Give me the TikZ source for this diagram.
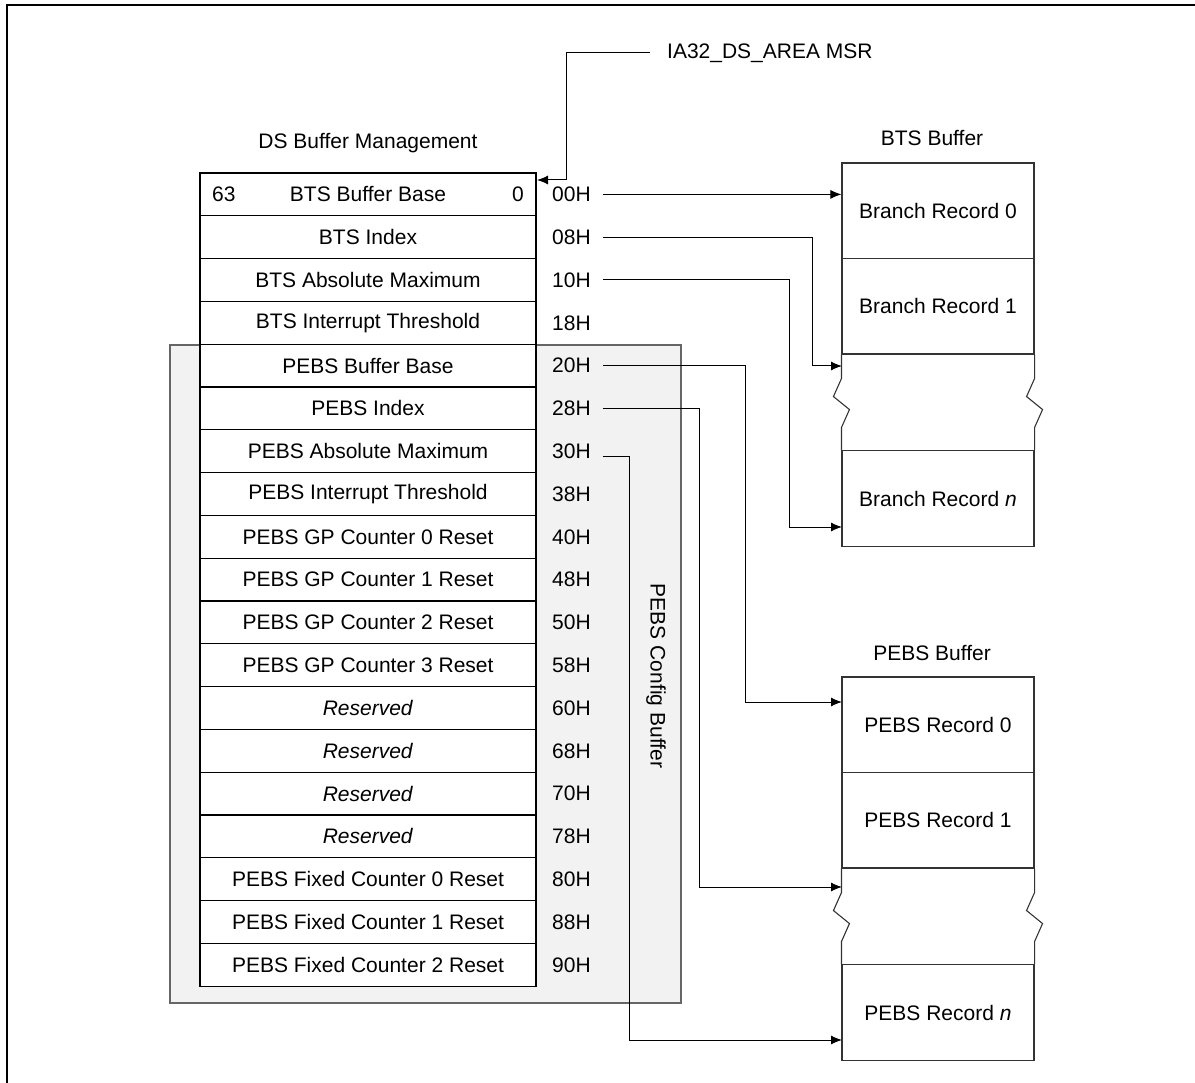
\documentclass[tikz,border=0pt]{standalone}
\usepackage{fontspec}
\setmainfont{Liberation Sans}
\usetikzlibrary{arrows.meta}
\begin{document}
\begin{tikzpicture}[x=1pt,y=-1pt,
  every node/.style={font=\fontsize{21}{25}\selectfont, text=black},
  row/.style={draw=black, line width=1.1pt, fill=white, minimum width=336pt, minimum height=42.8pt, inner sep=0pt, anchor=center},
  off/.style={anchor=west, inner sep=0pt},
  rec/.style={draw=black!80, line width=1.1pt, fill=white, minimum width=192pt, minimum height=95.5pt, inner sep=0pt},
  conn/.style={draw=black, line width=1pt},
  arr/.style={conn, -{Latex[length=11pt,width=9pt]}},
  cfgstyle/.style={draw=black!60, line width=1.3pt, fill=black!5, minimum width=511pt, minimum height=658pt, inner sep=0pt},
  zig/.style={draw=black!80, line width=1.1pt}
]
\useasboundingbox (0,0) rectangle (1195,1083);
% frame
\draw[line width=2.5pt] (7,1083) -- (7,5) -- (1195,5);

% PEBS config background
\node[cfgstyle] (cfg) at (425.5,674) {};

% table rows
\def\rowy#1{173+42.8*#1+21.4}
\node[row] (r0) at (368,{\rowy{0}}) {BTS Buffer Base};
\node[anchor=west, inner sep=0pt] (r0l) at (212,{\rowy{0}}) {63};
\node[anchor=east, inner sep=0pt] (r0r) at (524,{\rowy{0}}) {0};
\node[row] (r1) at (368,{\rowy{1}}) {BTS Index};
\node[row] (r2) at (368,{\rowy{2}}) {BTS Absolute Maximum};
\node[row] (r3) at (368,{\rowy{3}}) {BTS Interrupt Threshold};
\node[row] (r4) at (368,{\rowy{4}}) {PEBS Buffer Base};
\node[row] (r5) at (368,{\rowy{5}}) {PEBS Index};
\node[row] (r6) at (368,{\rowy{6}}) {PEBS Absolute Maximum};
\node[row] (r7) at (368,{\rowy{7}}) {PEBS Interrupt Threshold};
\node[row] (r8) at (368,{\rowy{8}}) {PEBS GP Counter 0 Reset};
\node[row] (r9) at (368,{\rowy{9}}) {PEBS GP Counter 1 Reset};
\node[row] (r10) at (368,{\rowy{10}}) {PEBS GP Counter 2 Reset};
\node[row] (r11) at (368,{\rowy{11}}) {PEBS GP Counter 3 Reset};
\node[row] (r12) at (368,{\rowy{12}}) {\textit{Reserved}};
\node[row] (r13) at (368,{\rowy{13}}) {\textit{Reserved}};
\node[row] (r14) at (368,{\rowy{14}}) {\textit{Reserved}};
\node[row] (r15) at (368,{\rowy{15}}) {\textit{Reserved}};
\node[row] (r16) at (368,{\rowy{16}}) {PEBS Fixed Counter 0 Reset};
\node[row] (r17) at (368,{\rowy{17}}) {PEBS Fixed Counter 1 Reset};
\node[row] (r18) at (368,{\rowy{18}}) {PEBS Fixed Counter 2 Reset};

% offsets
\node[off] (o00) at (552,{\rowy{0}}) {00H};
\node[off] (o08) at (552,{\rowy{1}}) {08H};
\node[off] (o10) at (552,{\rowy{2}}) {10H};
\node[off] (o18) at (552,{\rowy{3}}) {18H};
\node[off] (o20) at (552,{\rowy{4}}) {20H};
\node[off] (o28) at (552,{\rowy{5}}) {28H};
\node[off] (o30) at (552,{\rowy{6}}) {30H};
\node[off] (o38) at (552,{\rowy{7}}) {38H};
\node[off] (o40) at (552,{\rowy{8}}) {40H};
\node[off] (o48) at (552,{\rowy{9}}) {48H};
\node[off] (o50) at (552,{\rowy{10}}) {50H};
\node[off] (o58) at (552,{\rowy{11}}) {58H};
\node[off] (o60) at (552,{\rowy{12}}) {60H};
\node[off] (o68) at (552,{\rowy{13}}) {68H};
\node[off] (o70) at (552,{\rowy{14}}) {70H};
\node[off] (o78) at (552,{\rowy{15}}) {78H};
\node[off] (o80) at (552,{\rowy{16}}) {80H};
\node[off] (o88) at (552,{\rowy{17}}) {88H};
\node[off] (o90) at (552,{\rowy{18}}) {90H};

\node[rotate=-90, inner sep=0pt] (cfglbl) at (656,676) {PEBS Config Buffer};

% titles
\node (dstitle) at (368,143) {DS Buffer Management};
\node (btstitle) at (932,138) {BTS Buffer};
\node (pebstitle) at (932,653) {PEBS Buffer};

% BTS buffer
\node[rec] (br0) at (938,210.75) {Branch Record 0};
\node[rec] (br1) at (938,306.25) {Branch Record 1};
\node[rec] (brn) at (938,498.5) {Branch Record \textit{n}};
\draw[zig] (br1.south west) -- ++(0,24) -- ++(-8,18) -- ++(16,13) -- ++(-8,18) -- (brn.north west);
\draw[zig] (br1.south east) -- ++(0,24) -- ++(-8,18) -- ++(16,13) -- ++(-8,18) -- (brn.north east);

% PEBS buffer
\node[rec] (pr0) at (938,724.75) {PEBS Record 0};
\node[rec] (pr1) at (938,820.25) {PEBS Record 1};
\node[rec] (prn) at (938,1012.5) {PEBS Record \textit{n}};
\draw[zig] (pr1.south west) -- ++(0,24) -- ++(-8,18) -- ++(16,13) -- ++(-8,18) -- (prn.north west);
\draw[zig] (pr1.south east) -- ++(0,24) -- ++(-8,18) -- ++(16,13) -- ++(-8,18) -- (prn.north east);

% targets
\coordinate (tgap1) at (842,366);
\coordinate (tbrn) at (842,527);
\coordinate (tpr0) at (842,702);
\coordinate (tgap2) at (842,887);
\coordinate (tprn) at (842,1040);
\coordinate (tds) at (537,180);

% MSR
\node[anchor=west, inner sep=0pt] (msr) at (667,53) {IA32\_DS\_AREA MSR};
\draw[arr] ([xshift=-17pt]msr.west) -| ([xshift=29pt]tds) -- (tds);

% connectors
\draw[arr] ([xshift=12pt]o00.east) -- (o00.east -| br0.west);
\draw[arr] ([xshift=12pt]o08.east) -| ([xshift=-30pt]tgap1) -- (tgap1);
\draw[arr] ([xshift=12pt]o10.east) -| ([xshift=-53pt]tbrn) -- (tbrn);
\draw[arr] ([xshift=12pt]o20.east) -| ([xshift=-97pt]tpr0) -- (tpr0);
\draw[arr] ([xshift=12pt]o28.east) -| ([xshift=-143pt]tgap2) -- (tgap2);
\draw[arr] ([xshift=12pt,yshift=-5pt]o30.east) -| ([xshift=-213pt]tprn) -- (tprn);
\end{tikzpicture}
\end{document}
